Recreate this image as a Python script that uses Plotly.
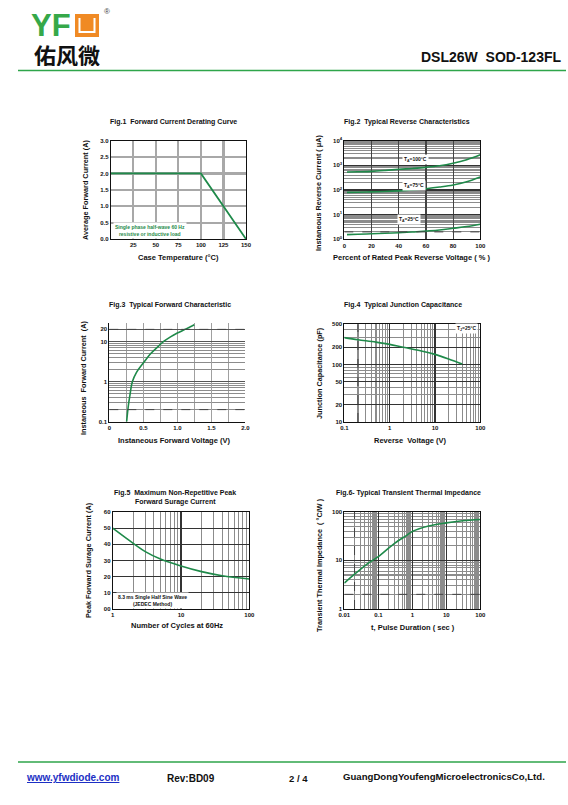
import plotly.graph_objects as go

W, H = 568, 805
def fx(p): return p / W
def fy(p): return 1 - p / H

# ---------------- data ----------------
fig1_temp = [0, 100, 150]
fig1_current = [2.0, 2.0, 0.0]

fig2_pct = [2, 10, 20, 30, 40, 50, 60, 70, 80, 90, 100]
fig2_100C = [540, 550, 570, 620, 690, 750, 830, 960, 1220, 1700, 2700]
fig2_75C = [80, 81, 84, 87, 92, 100, 113, 132, 160, 218, 340]
fig2_25C = [1.55, 1.6, 1.68, 1.76, 1.85, 1.98, 2.17, 2.4, 2.8, 3.3, 4.1]

fig3_v = [0.255, 0.28, 0.30, 0.34, 0.40, 0.50, 0.60, 0.70, 0.80, 0.90, 1.00, 1.10, 1.20, 1.25]
fig3_i = [0.1, 0.25, 0.42, 1.0, 1.7, 2.9, 4.8, 7.0, 10, 13, 16.2, 19.5, 23.5, 26]

fig4_v = [0.1, 0.2, 0.5, 1, 2, 5, 10, 20, 40]
fig4_c = [293, 270, 245, 224, 199, 172, 150, 125, 102]

fig5_n = [1, 2, 3, 5, 10, 20, 40, 100]
fig5_i = [50, 40.6, 35.5, 30.9, 26.6, 23.1, 20.6, 18.6]

fig6_t = [0.01, 0.02, 0.05, 0.1, 0.3, 0.7, 1, 3, 10, 30, 100]
fig6_z = [3.4, 5.2, 8.7, 11.9, 22.4, 33, 39, 50.7, 59, 65, 69]

fig1_xticks = [25, 50, 75, 100, 125, 150]
fig1_yticks = [0, 0.5, 1.0, 1.5, 2.0, 2.5, 3.0]
fig2_xticks = [0, 20, 40, 60, 80, 100]
fig3_xticks = [0, 0.5, 1.0, 1.5, 2.0]
fig3_xlabels = ["0", "0.5", "1.0", "1.5", "2.0"]
fig3_ylabels = {0.1: "0.1", 1: "1", 10: "10", 20: "20"}
fig4_ylabels = {10: "10", 20: "20", 50: "50", 100: "100", 200: "200", 500: "500"}
fig5_yticks = [0, 10, 20, 30, 40, 50, 60]
fig5_ylabels = ["00", "10", "20", "30", "40", "50", "60"]

GREEN = "#1f8a4a"
FONT = "Liberation Sans, Arial, sans-serif"

def minors(lo_exp, hi_exp, top=None):
    vals = []
    for e in range(lo_exp, hi_exp):
        for m in range(2, 10):
            v = m * 10 ** e
            if top is None or v <= top:
                vals.append(v)
    return vals

fig = go.Figure()

def add_line(x, y, i, color=GREEN, width=1.6, dash=None, shape="spline"):
    fig.add_trace(go.Scatter(x=x, y=y, mode="lines", xaxis=f"x{i}", yaxis=f"y{i}",
                             line=dict(color=color, width=width, dash=dash, shape=shape),
                             showlegend=False, hoverinfo="skip"))

add_line(fig1_temp, fig1_current, 1, width=1.8, shape="linear")
add_line(fig2_pct, fig2_100C, 2)
add_line(fig2_pct, fig2_75C, 2)
add_line(fig2_pct, fig2_25C, 2)
add_line(fig3_v, fig3_i, 3)
add_line(fig4_v, fig4_c, 4)
add_line(fig5_n, fig5_i, 5)
add_line(fig6_t, fig6_z, 6)
# dashed reference lines
add_line([0.2, 0.2], [10, 500], 4, color="#444", width=1, dash="dash", shape="linear")
add_line([0.02, 0.02], [1, 100], 6, color="#444", width=1, dash="dash", shape="linear")
add_line([0.01, 100], [2, 2], 6, color="#444", width=1, dash="dash", shape="linear")
add_line([0, 100], [2, 2], 2, color="#444", width=1, dash="dash", shape="linear")
add_line([0, 2], [20, 20], 3, color="#444", width=1, dash="dash", shape="linear")
add_line([0, 2], [0.2, 0.2], 3, color="#444", width=1, dash="dash", shape="linear")

tickfont = dict(family=FONT, size=6, color="#111", weight="bold")
base = dict(showline=True, linecolor="#111", linewidth=1, mirror=True, ticks="",
            tickfont=tickfont, zeroline=False, showgrid=True, gridcolor="#9a9a9a", gridwidth=1.2,
            automargin=False)

# plot boxes in pixels (left, right, top, bottom)
boxes = {
    1: (110.7, 246, 140.7, 239),
    2: (344.3, 480.3, 140.7, 239.3),
    3: (109.3, 245.3, 323, 421.7),
    4: (344.3, 480.3, 324.3, 422),
    5: (112.7, 249.3, 512, 609),
    6: (344.3, 480.3, 511.7, 609),
}
lay = {}
for i, (l, r, t, b) in boxes.items():
    lay[f"xaxis{i}"] = dict(base, domain=[fx(l), fx(r)], anchor=f"y{i}")
    lay[f"yaxis{i}"] = dict(base, domain=[fy(b), fy(t)], anchor=f"x{i}")

# Fig1
lay["xaxis1"].update(range=[0, 150], tickvals=fig1_xticks, gridwidth=2.2, gridcolor="#a8a8a8")
lay["yaxis1"].update(range=[0, 3], tickvals=fig1_yticks, ticktext=[f"{v:.1f}" for v in fig1_yticks],
                     gridwidth=2.2, gridcolor="#a8a8a8")
# Fig2
lay["xaxis2"].update(range=[0, 100], tickvals=fig2_xticks, gridcolor="#444", gridwidth=1.2)
lay["yaxis2"].update(type="log", range=[0, 4], tickvals=[1, 10, 100, 1000, 10000],
                     ticktext=[f"10<sup>{k}</sup>" for k in range(5)], gridcolor="#333", gridwidth=1.2,
                     minor=dict(tickvals=minors(0, 4), showgrid=True, gridcolor="#8c8c8c", gridwidth=1.2, ticks=""))
# Fig3
lay["xaxis3"].update(range=[0, 2], tickvals=fig3_xticks, ticktext=fig3_xlabels, gridcolor="#a0a0a0",
                     gridwidth=1.6, mirror=False,
                     minor=dict(tickvals=[0.25, 0.75, 1.25, 1.75], showgrid=True, gridcolor="#a0a0a0", gridwidth=1.6, ticks=""))
lay["yaxis3"].update(type="log", range=[-1, 1.46], tickvals=list(fig3_ylabels.keys()),
                     ticktext=list(fig3_ylabels.values()), gridcolor="#555", mirror=False,
                     minor=dict(tickvals=[v for v in minors(-1, 2, 30) if v not in (20,)], showgrid=True,
                                gridcolor="#8c8c8c", gridwidth=1.1, ticks=""))
# Fig4
lay["xaxis4"].update(type="log", range=[-1, 2], tickvals=[0.1, 1, 10, 100], ticktext=["0.1", "1", "10", "100"],
                     gridcolor="#333", minor=dict(tickvals=minors(-1, 2), showgrid=True, gridcolor="#8c8c8c", gridwidth=1.1, ticks=""))
lay["yaxis4"].update(type="log", range=[1, 2.699], tickvals=list(fig4_ylabels.keys()),
                     ticktext=list(fig4_ylabels.values()), gridcolor="#333",
                     minor=dict(tickvals=[v for v in minors(1, 3, 500) if v not in fig4_ylabels], showgrid=True,
                                gridcolor="#8c8c8c", gridwidth=1.1, ticks=""))
# Fig5
lay["xaxis5"].update(type="log", range=[0, 2], tickvals=[1, 10, 100], ticktext=["1", "10", "100"], gridcolor="#333",
                     minor=dict(tickvals=minors(0, 2), showgrid=True, gridcolor="#8c8c8c", gridwidth=1.1, ticks=""))
lay["yaxis5"].update(range=[0, 60], tickvals=fig5_yticks, ticktext=fig5_ylabels, gridcolor="#333")
# Fig6
lay["xaxis6"].update(type="log", range=[-2, 2], tickvals=[0.01, 0.1, 1, 10, 100],
                     ticktext=["0.01", "0.1", "1", "10", "100"], gridcolor="#333",
                     minor=dict(tickvals=minors(-2, 2), showgrid=True, gridcolor="#8c8c8c", gridwidth=1.1, ticks=""))
lay["yaxis6"].update(type="log", range=[0, 2], tickvals=[1, 10, 100], ticktext=["1", "10", "100"], gridcolor="#333",
                     minor=dict(tickvals=minors(0, 2), showgrid=True, gridcolor="#8c8c8c", gridwidth=1.1, ticks=""))

ann = []
def text(t, x, y, size=7, anchor="center", color="#111", angle=0, bold=True, family=FONT, bg=None,
         yanchor="middle", height=None):
    a = dict(text=f"<b>{t}</b>" if bold else t, x=fx(x), y=fy(y), xref="paper", yref="paper",
             xanchor=anchor, yanchor=yanchor, showarrow=False, textangle=angle,
             font=dict(family=family, size=size, color=color))
    if bg:
        a.update(bgcolor=bg, borderpad=1)
    else:
        a.update(borderpad=0)
    if height:
        a.update(height=height)
    ann.append(a)

# titles
text("Fig.1  Forward Current Derating Curve", 173, 122)
text("Fig.2  Typical Reverse Characteristics", 407, 122)
text("Fig.3  Typical Forward Characteristic", 170, 305)
text("Fig.4  Typical Junction Capacitance", 403, 305)
text("Fig.5  Maximum Non-Repetitive Peak", 175, 493)
text("Forward Surage Current", 175, 502)
text("Fig.6- Typical Transient Thermal Impedance", 408, 493)
# x titles
text("Case Temperature (°C)", 178, 257, size=7.5)
text("Percent of Rated Peak Reverse Voltage ( % )", 412, 257, size=7.5)
text("Instaneous Forward Voltage (V)", 174, 441, size=7.5)
text("Reverse  Voltage (V)", 410, 441, size=7.5)
text("Number of Cycles at 60Hz", 177, 625, size=7.5)
text("t, Pulse Duration ( sec )", 413, 627, size=7.5)
# y titles
text("Average Forward Current (A)", 85, 190, size=7.3, angle=-90)
text("Instaneous Reverse Current ( μA)", 319, 193, size=7.3, angle=-90)
text("Instaneous  Forward Current  (A)", 84, 378, size=7.3, angle=-90)
text("Junction Capacitance (pF)", 319, 373, size=7.3, angle=-90)
text("Peak Forward Surage Current (A)", 88, 560, size=7.3, angle=-90)
text("Transient Thermal Impedance  ( °C/W )", 319, 565, size=7.3, angle=-90)
# in-plot labels
text("Single phase half-wave 60 Hz<br>resistive or inductive load", 113, 230.5, size=5, anchor="left",
     color=GREEN, bg="white")
text("T<sub>A</sub>=100°C", 402, 160, size=5, anchor="left", bg="white")
text("T<sub>A</sub>=75°C", 402, 185, size=5, anchor="left", bg="white")
text("T<sub>A</sub>=25°C", 397, 219, size=5, anchor="left", bg="white")
text("T<sub>J</sub>=25°C", 478, 328, size=5, anchor="right", bg="white")
text("8.3 ms Single Half Sine Wave<br>(JEDEC Method)", 116, 600.5, size=5, anchor="left", bg="white")

# header
text("YF", 30, 25, size=31, anchor="left", color="#36a849", height=26)
text("®", 103, 11, size=8, anchor="left", bold=False, color="#444")
text("佑风微", 33, 54, size=22, anchor="left", family="Noto Sans CJK SC", color="#111", height=24)
text("DSL26W  SOD-123FL", 562, 57, size=14, anchor="right")
# footer
text("<u>www.yfwdiode.com</u>", 25, 777, size=10, anchor="left", color="#1c2fc4")
text("Rev:BD09", 166, 778, size=10, anchor="left")
text("2 / 4", 288, 778, size=9.5, anchor="left")
text("GuangDongYoufengMicroelectronicsCo,Ltd.", 342, 776, size=9.6, anchor="left")

shapes = [
    dict(type="line", xref="paper", yref="paper", x0=fx(18), x1=fx(566), y0=fy(70.5), y1=fy(70.5),
         line=dict(color="#2ea54a", width=1.6)),
    dict(type="line", xref="paper", yref="paper", x0=fx(18), x1=fx(566), y0=fy(762), y1=fy(762),
         line=dict(color="#2ea54a", width=1.6)),
    dict(type="rect", xref="paper", yref="paper", x0=fx(75), x1=fx(99), y0=fy(37), y1=fy(14),
         fillcolor="#f08a24", line=dict(width=0)),
    dict(type="path", xref="paper", yref="paper",
         path=f"M {fx(79.5)},{fy(18)} L {fx(79.5)},{fy(32)} L {fx(94.5)},{fy(32)} L {fx(94.5)},{fy(18)}",
         line=dict(color="white", width=2)),
]

fig.update_layout(width=W, height=H, margin=dict(l=0, r=0, t=0, b=0, autoexpand=False), paper_bgcolor="white",
                  plot_bgcolor="white", annotations=ann, shapes=shapes, hovermode=False, **lay)
fig.write_html("out.html", config={"displayModeBar": False, "staticPlot": True},
               post_script="document.body.style.margin='0';document.body.style.padding='0';"
                           "document.body.style.overflow='hidden';")
